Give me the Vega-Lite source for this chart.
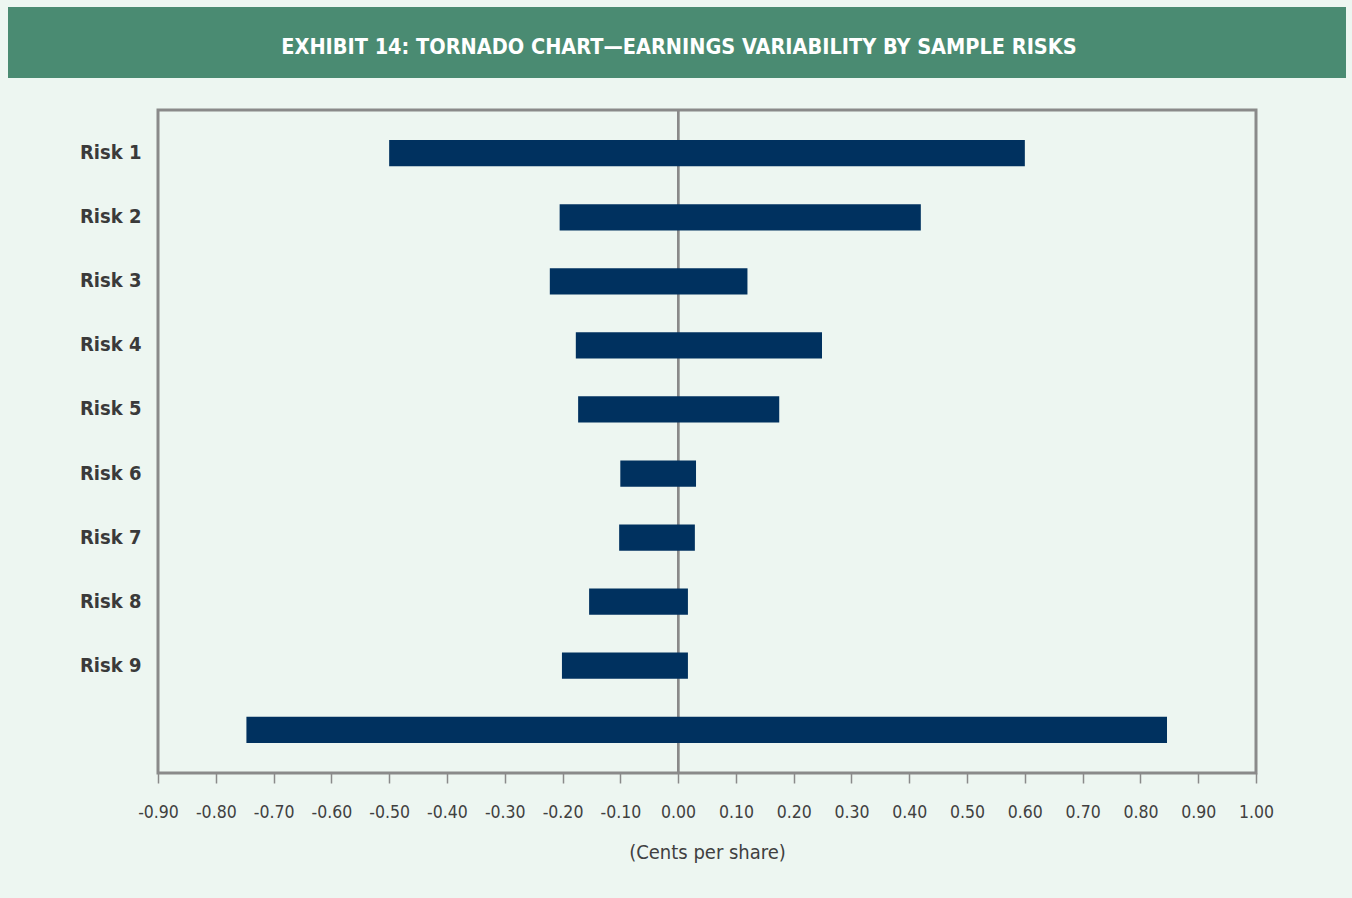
{
  "$schema": "https://vega.github.io/schema/vega-lite/v6.json",
  "background": "#EDF6F1",
  "padding": {"left": 8, "top": 7, "right": 6, "bottom": 60},
  "spacing": 29,
  "config": {
    "font": "DejaVu Sans Condensed",
    "view": {"stroke": null}
  },
  "vconcat": [
    {
      "width": 1338,
      "height": 71,
      "view": {"fill": "#4A8B72", "stroke": null},
      "data": {"values": [{"title": "EXHIBIT 14: TORNADO CHART—EARNINGS VARIABILITY BY SAMPLE RISKS"}]},
      "mark": {"type": "text", "color": "#FFFFFF", "font": "DejaVu Sans Condensed", "fontWeight": "bold", "fontSize": 21.5, "align": "center", "baseline": "middle", "dy": 5, "dx": 2},
      "encoding": {"text": {"field": "title", "type": "nominal"}}
    },
    {
      "spacing": 20,
      "hconcat": [
        {
          "width": 50,
          "height": 10,
          "view": {"fill": "transparent", "stroke": null},
          "data": {"values": []},
          "mark": "point"
        },
        {
          "width": 1098,
          "height": 663,
          "view": {"stroke": "#8A8A8A", "strokeWidth": 3, "fill": null},
          "data": {"values": [
            {"risk": "Risk 1", "low": -0.50, "high": 0.60},
            {"risk": "Risk 2", "low": -0.205, "high": 0.42},
            {"risk": "Risk 3", "low": -0.222, "high": 0.12},
            {"risk": "Risk 4", "low": -0.177, "high": 0.249},
            {"risk": "Risk 5", "low": -0.173, "high": 0.175},
            {"risk": "Risk 6", "low": -0.10, "high": 0.031},
            {"risk": "Risk 7", "low": -0.102, "high": 0.029},
            {"risk": "Risk 8", "low": -0.154, "high": 0.017},
            {"risk": "Risk 9", "low": -0.201, "high": 0.017},
            {"risk": "Total", "low": -0.747, "high": 0.846}
          ]},
          "layer": [
            {
              "mark": {"type": "rule", "color": "#8A8A8A", "strokeWidth": 2},
              "encoding": {"x": {"datum": 0, "type": "quantitative"}}
            },
            {
              "mark": {"type": "bar", "color": "#00315F"},
              "encoding": {
                "y": {
                  "field": "risk", "type": "nominal", "sort": null,
                  "scale": {"paddingInner": 0.59, "paddingOuter": 0.47},
                  "axis": {
                    "title": null, "ticks": false, "domain": false,
                    "labelExpr": "datum.value == 'Total' ? '' : datum.value",
                    "labelFont": "DejaVu Sans Condensed", "labelFontWeight": "bold",
                    "labelFontSize": 20, "labelColor": "#3A3A3A", "labelPadding": 17
                  }
                },
                "x": {
                  "field": "low", "type": "quantitative",
                  "scale": {"domain": [-0.9, 1.0], "nice": false, "zero": false},
                  "axis": {
                    "title": "(Cents per share)",
                    "values": [-0.9, -0.8, -0.7, -0.6, -0.5, -0.4, -0.3, -0.2, -0.1, 0, 0.1, 0.2, 0.3, 0.4, 0.5, 0.6, 0.7, 0.8, 0.9, 1.0],
                    "labelExpr": "replace(format(datum.value, '.2f'), '\u2212', '-')",
                    "grid": false, "domain": false,
                    "ticks": true, "tickSize": 10, "tickColor": "#8A8A8A", "tickWidth": 1.5,
                    "labelFont": "DejaVu Sans Condensed", "labelFontSize": 17.5, "labelColor": "#404040",
                    "labelPadding": 20, "labelFlush": false, "labelOverlap": false,
                    "titleFont": "DejaVu Sans Condensed", "titleFontWeight": "normal",
                    "titleFontSize": 20, "titleColor": "#404040", "titlePadding": 22
                  }
                },
                "x2": {"field": "high"}
              }
            }
          ]
        }
      ]
    }
  ]
}
